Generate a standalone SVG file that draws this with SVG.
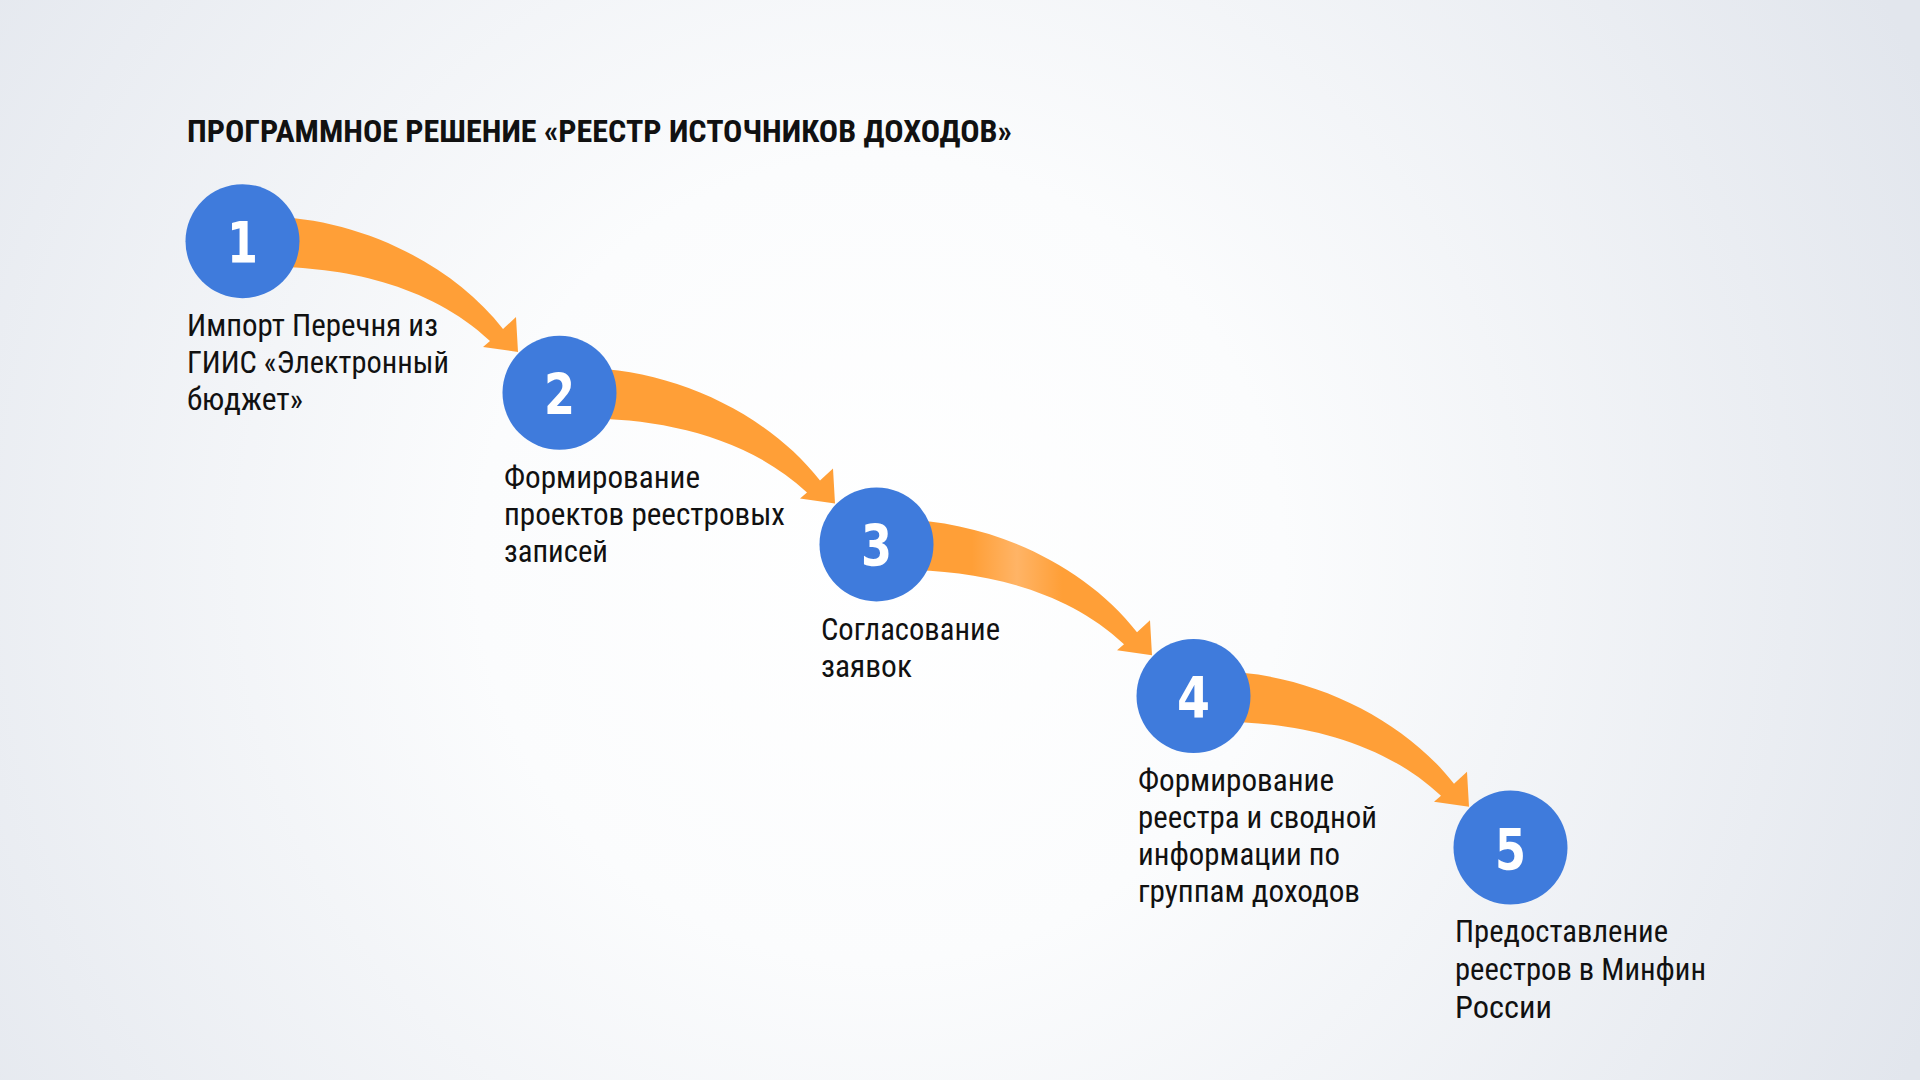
<svg xmlns="http://www.w3.org/2000/svg" xmlns:xlink="http://www.w3.org/1999/xlink" width="1920" height="1080" viewBox="0 0 1920 1080">
<defs>
<radialGradient id="bg" gradientUnits="userSpaceOnUse" cx="880" cy="560" r="1150">
<stop offset="0" stop-color="#FFFFFF"/>
<stop offset="0.35" stop-color="#FBFCFD"/>
<stop offset="1" stop-color="#E2E6ED"/>
</radialGradient>
<linearGradient id="sheen" gradientUnits="userSpaceOnUse" x1="338" y1="0" x2="428" y2="0">
<stop offset="0" stop-color="#FF9F37"/>
<stop offset="0.5" stop-color="#FFB466"/>
<stop offset="1" stop-color="#FF9F37"/>
</linearGradient>
<path id="arrow" d="M 255 217 C 345 213, 448 258, 503 329 L 516 317 L 518 352 L 483 347 L 490 341 C 425 280, 330 265, 255 267 Z"/>
<style>
.lbl { font-family: "Roboto Condensed", "Roboto", "Liberation Sans Narrow", "Liberation Sans", sans-serif; font-stretch: condensed; font-size: 32px; fill: #111111; }
.ttl { font-family: "Roboto Condensed", "Roboto", "Liberation Sans Narrow", "Liberation Sans", sans-serif; font-stretch: condensed; font-size: 32px; font-weight: bold; fill: #111111; }
.circ { fill: #3F7BDC; }
.num { font-family: "DejaVu Sans", "Open Sans", sans-serif; font-weight: bold; font-size: 57px; fill: #FFFFFF; text-anchor: middle; }
.arr { fill: #FF9F37; }
</style>
</defs>
<rect x="0" y="0" width="1920" height="1080" fill="url(#bg)"/>
<text class="ttl" x="187" y="142" textLength="825" lengthAdjust="spacingAndGlyphs">ПРОГРАММНОЕ РЕШЕНИЕ «РЕЕСТР ИСТОЧНИКОВ ДОХОДОВ»</text>
<g id="connectors">
<use xlink:href="#arrow" href="#arrow" class="arr"/>
<use xlink:href="#arrow" href="#arrow" class="arr" transform="translate(317,151.6)"/>
<use xlink:href="#arrow" href="#arrow" fill="url(#sheen)" transform="translate(634,303.2)"/>
<use xlink:href="#arrow" href="#arrow" class="arr" transform="translate(951,454.8)"/>
</g>
<g id="node1">
<circle class="circ" cx="242.5" cy="241.2" r="57"/>
<text class="num" x="242.5" y="263" textLength="31" lengthAdjust="spacingAndGlyphs">1</text>
<text class="lbl"><tspan x="187" y="336" textLength="251" lengthAdjust="spacingAndGlyphs">Импорт Перечня из</tspan><tspan x="187" y="373" textLength="262" lengthAdjust="spacingAndGlyphs">ГИИС «Электронный</tspan><tspan x="187" y="410" textLength="116" lengthAdjust="spacingAndGlyphs">бюджет»</tspan></text>
</g>
<g id="node2">
<circle class="circ" cx="559.5" cy="392.8" r="57"/>
<text class="num" x="559.5" y="414.8" textLength="31" lengthAdjust="spacingAndGlyphs">2</text>
<text class="lbl"><tspan x="504" y="488" textLength="196" lengthAdjust="spacingAndGlyphs">Формирование</tspan><tspan x="504" y="525" textLength="281" lengthAdjust="spacingAndGlyphs">проектов реестровых</tspan><tspan x="504" y="562" textLength="104" lengthAdjust="spacingAndGlyphs">записей</tspan></text>
</g>
<g id="node3">
<circle class="circ" cx="876.5" cy="544.4" r="57"/>
<text class="num" x="876.5" y="566.4" textLength="31" lengthAdjust="spacingAndGlyphs">3</text>
<text class="lbl"><tspan x="821" y="640" textLength="179" lengthAdjust="spacingAndGlyphs">Согласование</tspan><tspan x="821" y="677" textLength="91" lengthAdjust="spacingAndGlyphs">заявок</tspan></text>
</g>
<g id="node4">
<circle class="circ" cx="1193.5" cy="696" r="57"/>
<text class="num" x="1193.5" y="718" textLength="33" lengthAdjust="spacingAndGlyphs">4</text>
<text class="lbl"><tspan x="1138" y="791" textLength="196" lengthAdjust="spacingAndGlyphs">Формирование</tspan><tspan x="1138" y="828" textLength="239" lengthAdjust="spacingAndGlyphs">реестра и сводной</tspan><tspan x="1138" y="865" textLength="202" lengthAdjust="spacingAndGlyphs">информации по</tspan><tspan x="1138" y="902" textLength="222" lengthAdjust="spacingAndGlyphs">группам доходов</tspan></text>
</g>
<g id="node5">
<circle class="circ" cx="1510.5" cy="847.6" r="57"/>
<text class="num" x="1510.5" y="869.6" textLength="31" lengthAdjust="spacingAndGlyphs">5</text>
<text class="lbl"><tspan x="1455" y="942" textLength="213" lengthAdjust="spacingAndGlyphs">Предоставление</tspan><tspan x="1455" y="980" textLength="251" lengthAdjust="spacingAndGlyphs">реестров в Минфин</tspan><tspan x="1455" y="1018" textLength="97" lengthAdjust="spacingAndGlyphs">России</tspan></text>
</g>
</svg>
